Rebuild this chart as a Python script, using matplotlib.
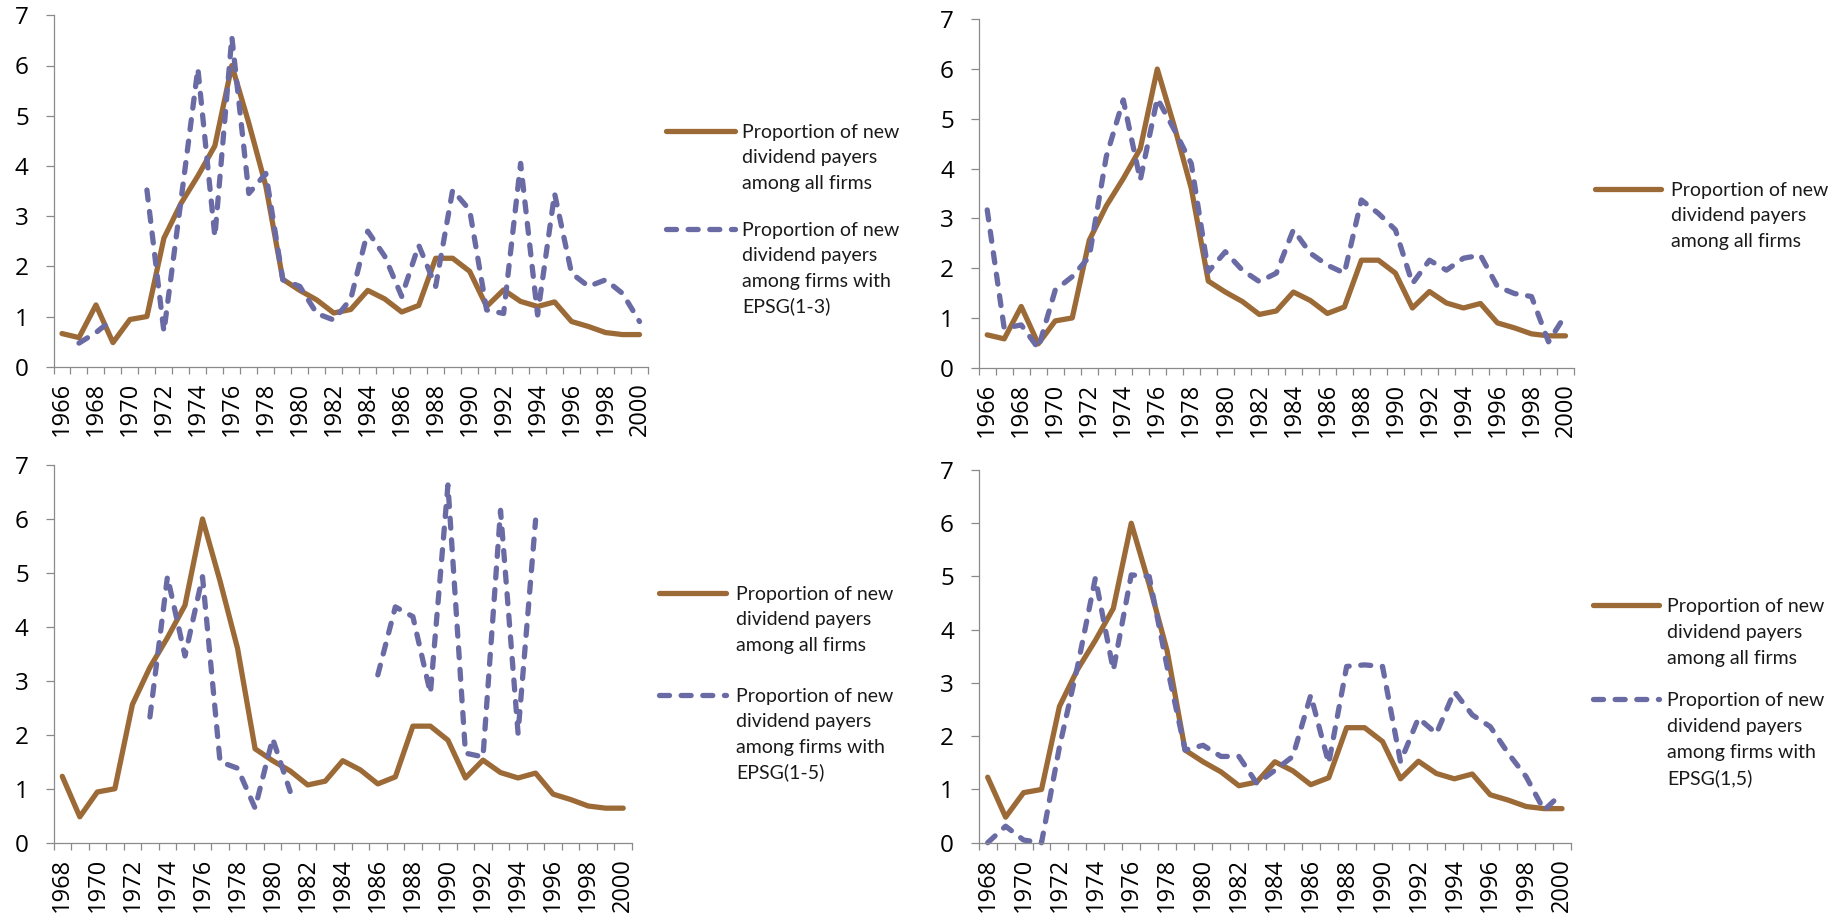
import numpy as np
import matplotlib
matplotlib.use("Agg")
import matplotlib.pyplot as plt
from matplotlib.lines import Line2D

nan = np.nan

# ---------------- data ----------------
years_full = list(range(1966, 2001))   # top panels
years_short = list(range(1968, 2001))  # bottom panels

# Proportion of new dividend payers among all firms (1966-2000)
all_firms = [0.66, 0.58, 1.23, 0.48, 0.94, 1.00, 2.56, 3.25, 3.80, 4.40,
             6.00, 4.85, 3.60, 1.74, 1.52, 1.33, 1.07, 1.14, 1.52, 1.35,
             1.09, 1.22, 2.16, 2.16, 1.90, 1.20, 1.53, 1.30, 1.20, 1.29,
             0.90, 0.80, 0.68, 0.64, 0.64]

# among firms with EPSG(1-3) (1966-2000)
epsg_1_3 = [nan, 0.47, 0.68, 0.95, nan, 3.52, 0.70, 3.30, 5.94, 2.59,
            6.57, 3.45, 3.85, 1.73, 1.60, 1.06, 0.93, 1.35, 2.70, 2.20,
            1.40, 2.42, 1.60, 3.52, 3.12, 1.13, 1.06, 4.05, 1.03, 3.45,
            1.86, 1.60, 1.73, 1.46, 0.90]

# top-right dashed series (1966-2000)
epsg_top_right = [3.17, 0.79, 0.86, 0.39, 1.56, 1.83, 2.23, 4.24, 5.38, 3.77,
                  5.41, 4.78, 4.10, 1.93, 2.33, 1.96, 1.73, 1.90, 2.77, 2.30,
                  2.06, 1.90, 3.37, 3.10, 2.77, 1.69, 2.16, 1.96, 2.20, 2.26,
                  1.63, 1.49, 1.43, 0.52, 1.06]

# among firms with EPSG(1-5) (1968-2000)
epsg_1_5 = [nan, nan, nan, nan, nan, 2.33, 4.93, 3.46, 4.93, 1.50,
            1.38, 0.64, 1.93, 0.95, nan, nan, nan, nan, 3.11, 4.37,
            4.19, 2.77, 6.63, 1.66, 1.59, 6.16, 2.03, 5.98, nan, nan,
            nan, nan, nan]

# among firms with EPSG(1,5) (1968-2000)
epsg_1c5 = [0.00, 0.31, 0.05, 0.00, 1.80, 3.30, 4.97, 3.24, 5.03, 5.00,
            3.30, 1.74, 1.83, 1.62, 1.62, 1.11, 1.36, 1.62, 2.77, 1.49,
            3.31, 3.34, 3.31, 1.52, 2.34, 2.05, 2.84, 2.40, 2.18, 1.68,
            1.24, 0.61, 0.93]

all_firms_short = all_firms[2:]  # same series from 1968

lab_all = ["Proportion of new", "dividend payers", "among all firms"]
lab_13 = ["Proportion of new", "dividend payers", "among firms with", "EPSG(1-3)"]
lab_15 = ["Proportion of new", "dividend payers", "among firms with", "EPSG(1-5)"]
lab_1c5 = ["Proportion of new", "dividend payers", "among firms with", "EPSG(1,5)"]

# ---------------- style ----------------
W, H = 1841, 917
plt.rcParams["font.family"] = ["Lato", "DejaVu Sans"]
BROWN = "#9C6A37"
PURPLE = "#6A6BA5"
AXC = "#8A8A8A"
LW = 3.8
solid = dict(color=BROWN, lw=LW, solid_capstyle="round", solid_joinstyle="round")
dashed = dict(color=PURPLE, lw=LW, linestyle=(0, (1.9, 2.2)),
              dash_capstyle="round", dash_joinstyle="round")
TICK_FONT = ["Open Sans", "DejaVu Sans"]
YTICK_FS = 17.5
XTICK_FS = 17
LEG_FS = 14.0

fig = plt.figure(figsize=(W / 100, H / 100), dpi=100)


def px_rect(left, top, right, bottom):
    return [left / W, 1 - bottom / H, (right - left) / W, (bottom - top) / H]


def panel(rect, years, series):
    ax = fig.add_axes(rect)
    x = np.arange(len(years))
    for vals, st in series:
        ax.plot(x, vals, clip_on=False, **st)
    ax.set_xlim(-0.5, len(years) - 0.5)
    ax.set_ylim(0, 7)
    ax.set_yticks(range(0, 8))
    ax.set_yticklabels([str(v) for v in range(0, 8)], fontsize=YTICK_FS,
                       family=TICK_FONT)
    ax.set_xticks(np.arange(-0.5, len(years), 1.0))
    ax.set_xticklabels([])
    ax.set_xticks(x[::2], minor=True)
    ax.set_xticklabels([str(y) for y in years[::2]], minor=True,
                       rotation=90, fontsize=XTICK_FS, family=TICK_FONT)
    for s in ("top", "right"):
        ax.spines[s].set_visible(False)
    for s in ("left", "bottom"):
        ax.spines[s].set_color(AXC)
        ax.spines[s].set_linewidth(0.9)
    ax.tick_params(axis="y", direction="out", length=5.8, width=0.9,
                   color=AXC, pad=12)
    ax.tick_params(axis="x", which="major", direction="out", length=5,
                   width=0.9, color=AXC)
    ax.tick_params(axis="x", which="minor", length=0, pad=11)
    ax.set_facecolor("none")
    return ax


def legend(x0, x1, tx, entries, spacing=25.5):
    for y, st, lines in entries:
        fig.add_artist(Line2D([x0 / W, x1 / W], [1 - y / H, 1 - y / H],
                              transform=fig.transFigure, **st))
        for i, t in enumerate(lines):
            fig.text(tx / W, 1 - (y + 6.7 + i * spacing) / H, t,
                     fontsize=LEG_FS, va="baseline", ha="left", color="#1a1a1a")


panel(px_rect(53.5, 15.3, 648, 366.7), years_full,
      [(all_firms, solid), (epsg_1_3, dashed)])
legend(666, 735, 742, [(131, solid, lab_all), (229, dashed, lab_13)])

panel(px_rect(978.7, 19.3, 1574, 367.7), years_full,
      [(all_firms, solid), (epsg_top_right, dashed)])
legend(1595, 1661, 1671, [(189, solid, lab_all)])

panel(px_rect(53.5, 465, 632, 842.7), years_short,
      [(all_firms_short, solid), (epsg_1_5, dashed)])
legend(659, 726, 736, [(593, solid, lab_all), (695, dashed, lab_15)])

panel(px_rect(978.7, 470, 1571, 842.7), years_short,
      [(all_firms_short, solid), (epsg_1c5, dashed)])
legend(1593, 1659, 1667, [(605, solid, lab_all), (699, dashed, lab_1c5)], spacing=26)

fig.savefig("out.png", dpi=100, facecolor="white")
